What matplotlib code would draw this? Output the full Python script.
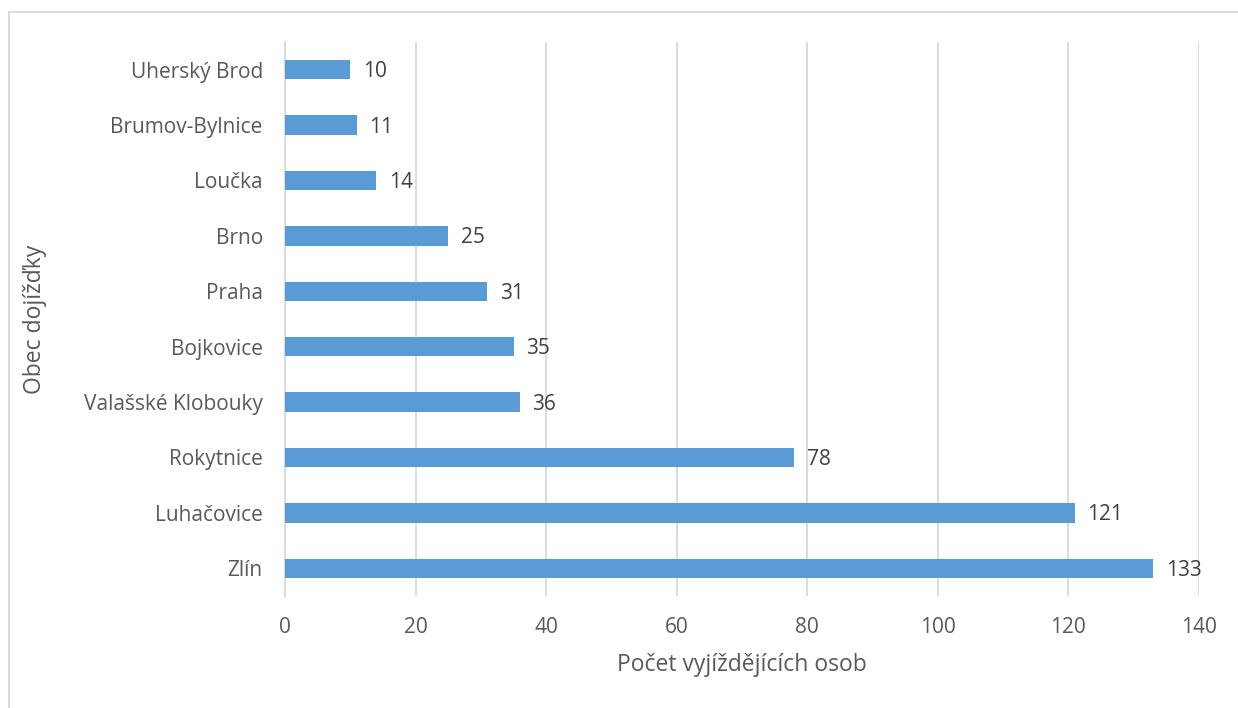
import matplotlib.pyplot as plt
from matplotlib.patches import Rectangle

# data (top to bottom as in the chart)
obce = ['Uherský Brod', 'Brumov-Bylnice', 'Loučka', 'Brno', 'Praha',
        'Bojkovice', 'Valašské Klobouky', 'Rokytnice', 'Luhačovice', 'Zlín']
pocty = [10, 11, 14, 25, 31, 35, 36, 78, 121, 133]
xticks = [0, 20, 40, 60, 80, 100, 120, 140]

barva = '#5B9BD5'
sediva = '#595959'
mrizka = '#D9D9D9'

plt.rcParams['font.family'] = ['Open Sans', 'DejaVu Sans']

fig = plt.figure(figsize=(12.38, 7.08), dpi=100)
ax = fig.add_axes([285 / 1238, 1 - 596 / 708, 914 / 1238, 554 / 708])

# ramecek grafu (pravy a dolni okraj jsou mimo obrazek)
fig.patches.append(Rectangle((9 / 1238, -0.1), 1.2, 1.1 - 12.5 / 708,
                             transform=fig.transFigure, fill=False,
                             edgecolor=mrizka, linewidth=1.3))

y = list(range(len(obce)))[::-1]
ax.barh(y, pocty, height=0.35, color=barva, zorder=3)
for yi, v in zip(y, pocty):
    ax.annotate(str(v), (v, yi), xytext=(9, -1.5), textcoords='offset points',
                ha='left', va='center', fontsize=15, color='#404040')

ax.set_xlim(0, 140)
ax.set_ylim(-0.5, len(obce) - 0.5)
ax.set_xticks(xticks)
ax.set_yticks(y)
ax.set_yticklabels(obce)
ax.tick_params(axis='both', length=0, labelsize=15, labelcolor=sediva)
ax.tick_params(axis='y', pad=16)
ax.tick_params(axis='x', pad=15)
ax.grid(axis='x', color=mrizka, linewidth=1.3, zorder=0)
for s in ['top', 'right', 'bottom']:
    ax.spines[s].set_visible(False)
ax.spines['left'].set_color(mrizka)
ax.spines['left'].set_linewidth(1.3)

ax.set_xlabel('Počet vyjíždějících osob', fontsize=16.5, color=sediva, va='center')
ax.xaxis.set_label_coords(0.5, -69 / 554)
ax.set_ylabel('Obec dojížďky', fontsize=16.5, color=sediva, va='center')
ax.yaxis.set_label_coords(-250 / 914, 0.5)

fig.savefig('out.png', dpi=100)
